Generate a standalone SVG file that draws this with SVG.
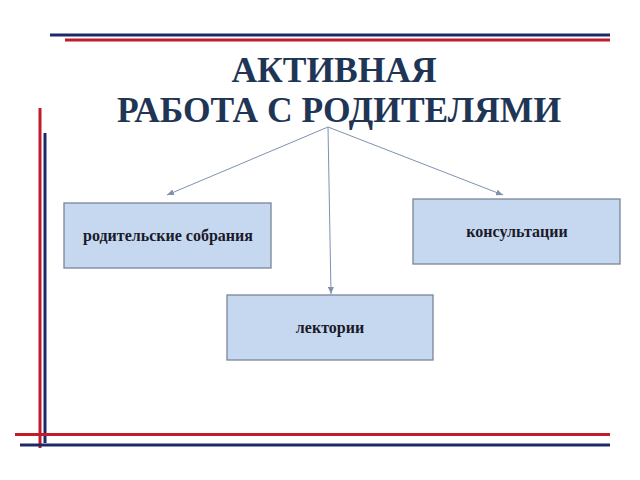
<svg xmlns="http://www.w3.org/2000/svg" width="640" height="480" viewBox="0 0 640 480">
<style>
.title{font-family:"Liberation Serif","Times New Roman",serif;font-weight:bold;font-size:35.5px;fill:#1f3556;text-anchor:middle}
.box{fill:#c6d8ef;stroke:#7a8699;stroke-width:1.3}
.lbl{font-family:"Liberation Serif","Times New Roman",serif;font-weight:bold;font-size:16px;fill:#1a1a2a;text-anchor:middle}
.conn{stroke:#7f91b0;stroke-width:1;fill:none;marker-end:url(#ah)}
.navy{stroke:#1c2a6b;stroke-width:3}
.red{stroke:#c01c2a;stroke-width:3}
</style>
<defs>
<marker id="ah" markerWidth="8" markerHeight="6" refX="7" refY="3" orient="auto" markerUnits="userSpaceOnUse">
<path d="M0,0 L7,3 L0,6 Z" fill="#7f91b0"/>
</marker>
</defs>
<rect width="640" height="480" fill="#fff"/>
<g id="frame">
<line class="navy" x1="50" y1="35" x2="610" y2="35"/>
<line class="red" x1="65" y1="40" x2="610" y2="40"/>
<line class="red" x1="40" y1="108" x2="40" y2="448"/>
<line class="navy" x1="45" y1="133" x2="45" y2="443"/>
<line class="red" x1="15" y1="434.5" x2="610" y2="434.5"/>
<line class="navy" x1="20" y1="445" x2="610" y2="445"/>
</g>
<g id="title">
<text class="title" x="334" y="82">АКТИВНАЯ</text>
<text class="title" x="339" y="122">РАБОТА С РОДИТЕЛЯМИ</text>
</g>
<g id="connectors">
<line class="conn" x1="328" y1="127" x2="167" y2="195"/>
<line class="conn" x1="328" y1="127" x2="331" y2="294"/>
<line class="conn" x1="328" y1="127" x2="503" y2="195"/>
</g>
<g id="node-sobrania">
<rect class="box" x="64" y="203" width="207" height="65"/>
<text class="lbl" x="168" y="241">родительские собрания</text>
</g>
<g id="node-lektorii">
<rect class="box" x="227" y="295" width="206" height="65"/>
<text class="lbl" x="330" y="333">лектории</text>
</g>
<g id="node-konsultacii">
<rect class="box" x="413" y="199" width="207" height="65"/>
<text class="lbl" x="517" y="237">консультации</text>
</g>
</svg>
